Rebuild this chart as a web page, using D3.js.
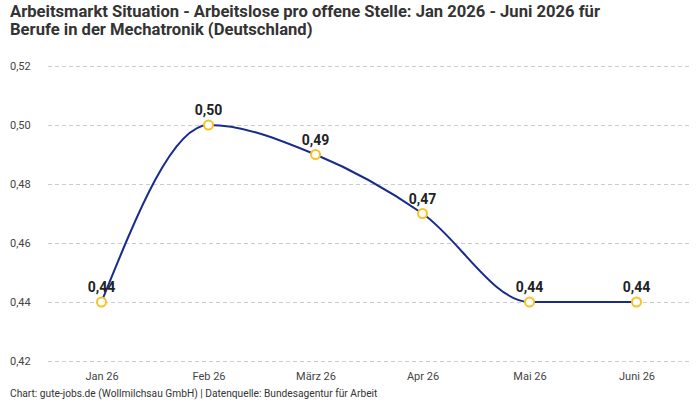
<!DOCTYPE html>
<html><head><meta charset="utf-8">
<script src="https://cdn.jsdelivr.net/npm/d3@7"></script>
<style>body{margin:0;background:#fff}svg{display:block}</style>
</head><body>
<script>
const months = ["Jan 26","Feb 26","März 26","Apr 26","Mai 26","Juni 26"];
const values = [0.44,0.50,0.49,0.47,0.44,0.44];
const yTicks = [0.42,0.44,0.46,0.48,0.50,0.52];
const titleLines = ["Arbeitsmarkt Situation - Arbeitslose pro offene Stelle: Jan 2026 - Juni 2026 für","Berufe in der Mechatronik (Deutschland)"];
const footer = "Chart: gute-jobs.de (Wollmilchsau GmbH) | Datenquelle: Bundesagentur für Arbeit";

const W=700,H=400;
const fmt = v => d3.format(".2f")(v).replace(".",",");
const svg = d3.select("body").append("svg").attr("width",W).attr("height",H);
const font = "Roboto, 'Open Sans', sans-serif";
const x = d3.scalePoint().domain(months).range([48,690]).padding(0.5);
const y = d3.scaleLinear().domain([0.42,0.52]).range([361,66]);

svg.append("g").selectAll("text").data(titleLines).join("text")
 .attr("x",10).attr("y",(d,i)=>17+i*18).attr("font-family",font).attr("font-weight","bold")
 .attr("font-size",16.6).attr("fill","#333").text(d=>d);

const ya = svg.append("g").attr("transform","translate(48,0)")
 .call(d3.axisLeft(y).tickValues(yTicks).tickSize(-642).tickFormat(fmt).tickPadding(15));
ya.select(".domain").remove();
ya.selectAll("line").attr("stroke","#ccc").attr("stroke-dasharray","4,3");
ya.selectAll("text").attr("font-family",font).attr("font-size",11).attr("fill","#444").attr("text-anchor","start").attr("x",-38);

const xa = svg.append("g").attr("transform","translate(0,361)")
 .call(d3.axisBottom(x).tickSize(0).tickPadding(11));
xa.select(".domain").remove();
xa.selectAll("text").attr("font-family",font).attr("font-size",11).attr("fill","#444");

const data = months.map((m,i)=>({m,v:values[i]}));
svg.append("path").datum(data).attr("fill","none").attr("stroke","#1a2b8c").attr("stroke-width",2)
 .attr("d",d3.line().x(d=>x(d.m)).y(d=>y(d.v)).curve(d3.curveMonotoneX));

svg.append("g").selectAll("circle").data(data).join("circle")
 .attr("cx",d=>x(d.m)).attr("cy",d=>y(d.v)).attr("r",4.5)
 .attr("fill","#fff").attr("stroke","#f7c325").attr("stroke-width",2);

svg.append("g").selectAll("text").data(data).join("text")
 .attr("x",d=>x(d.m)).attr("y",d=>y(d.v)-10).attr("text-anchor","middle")
 .attr("font-family",font).attr("font-weight","bold").attr("font-size",14).attr("fill","#222")
 .text(d=>fmt(d.v));

svg.append("text").attr("x",10).attr("y",397).attr("font-family",font).attr("font-size",10.2)
 .attr("fill","#333").text(footer);
</script>
</body></html>
